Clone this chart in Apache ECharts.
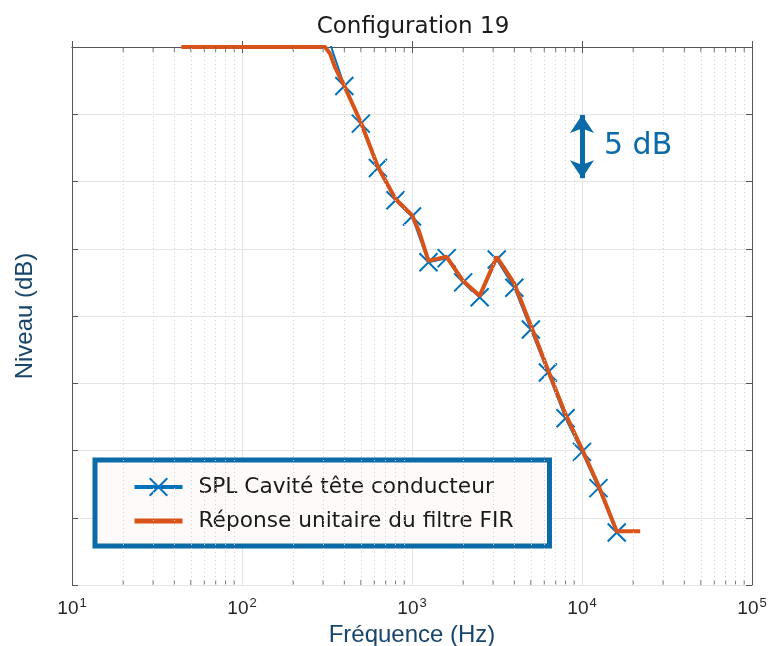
<!DOCTYPE html>
<html>
<head>
<meta charset="utf-8">
<script src="https://cdn.jsdelivr.net/npm/echarts@6/dist/echarts.min.js"></script>
<style>
html,body{margin:0;padding:0;background:#fff;}
#c{width:769px;height:646px;}
</style>
</head>
<body>
<div id="c"></div>
<script>
// ---- data ----
const freqBands = [315, 400, 500, 630, 800, 1000, 1250, 1600, 2000, 2500, 3150, 4000, 5000, 6300, 8000, 10000, 12500, 16000];
const splValues = [1.0, -2.9, -5.7, -9.0, -11.4, -12.6, -16.0, -15.7, -17.5, -18.6, -15.8, -17.9, -21.0, -24.2, -27.6, -30.1, -32.8, -36.1];

const firFreqs = [44, 308, 330, 352, 400, 500, 630, 800, 1000, 1100, 1250, 1600, 2000, 2500, 3150, 4000, 5000, 6300, 8000, 10000, 12500, 16000, 22000];
const firValues = [0, 0, -0.5, -1.5, -2.9, -5.6, -8.9, -11.3, -12.5, -13.7, -15.9, -15.6, -17.4, -18.5, -15.6, -17.6, -20.7, -24.0, -27.3, -29.9, -32.6, -36.0, -36.0];

const xTickValues = [10, 100, 1000, 10000, 100000];
const xTickLabels = ['10{s|1}', '10{s|2}', '10{s|3}', '10{s|4}', '10{s|5}'];
const minorFreqs = [20, 30, 40, 50, 60, 70, 80, 90,
                    200, 300, 400, 500, 600, 700, 800, 900,
                    2000, 3000, 4000, 5000, 6000, 7000, 8000, 9000,
                    20000, 30000, 40000, 50000, 60000, 70000, 80000, 90000];
const yMin = -40, yMax = 0, yStep = 5;
const scaleBar = { freq: 10000, top: -5.05, bottom: -9.75, labelAt: -7.4, text: '5 dB' };

const seriesNames = ['SPL Cavité tête conducteur', 'Réponse unitaire du filtre FIR'];

// ---- style ----
const BLUE = '#0072BD', ORANGE = '#D95319', ANNOT = '#0b6aa8';
const AXIS = '#555555', GRID = '#e4e4e4', MINOR = '#d0d0d0';
const crossPath = 'path://M0,0L10,10M10,0L0,10';

const chart = echarts.init(document.getElementById('c'), null, { renderer: 'canvas' });

const tickFmt = function (v) {
  const i = xTickValues.findIndex(t => Math.abs(t - v) / t < 1e-6);
  return i >= 0 ? xTickLabels[i] : '';
};

chart.setOption({
  animation: false,
  backgroundColor: '#ffffff',
  title: {
    text: 'Configuration 19',
    left: 408, top: 11, textAlign: 'center',
    textStyle: { fontFamily: 'DejaVu Sans', fontSize: 23, fontWeight: 'normal', color: '#1a1a1a' }
  },
  grid: { left: 72, right: 17, top: 47, bottom: 61, containLabel: false, outerBoundsMode: 'none' },
  legend: {
    orient: 'vertical',
    left: 95, top: 460,
    data: [
      { name: seriesNames[0], lineStyle: { width: 4 } },
      { name: seriesNames[1], lineStyle: { width: 5 }, itemStyle: { opacity: 0 } }
    ],
    itemWidth: 48, itemHeight: 22, itemGap: 8,
    padding: [14, 36, 12, 37],
    backgroundColor: '#fffafa',
    borderColor: ANNOT, borderWidth: 5, borderRadius: 0,
    textStyle: { fontFamily: 'DejaVu Sans', fontSize: 21.7, color: '#1a1a1a', padding: [0, 0, 0, 11], lineHeight: 26 }
  },
  xAxis: [{
    type: 'log', logBase: 10, min: 10, max: 100000,
    position: 'bottom',
    name: 'Fréquence (Hz)', nameLocation: 'middle', nameGap: 37,
    nameTextStyle: { fontFamily: 'Liberation Sans', fontSize: 24, color: '#17456b' },
    axisLine: { show: true, lineStyle: { color: AXIS, width: 1 } },
    axisTick: { show: true, inside: true, length: 6, lineStyle: { color: AXIS } },
    axisLabel: {
      show: true, margin: 12, formatter: tickFmt,
      color: '#262626', fontFamily: 'Liberation Sans', fontSize: 19,
      rich: { s: { fontSize: 13, fontFamily: 'Liberation Sans', color: '#262626', padding: [0, 0, 11, 1] } }
    },
    splitLine: { show: true, lineStyle: { color: GRID, width: 1 } }
  }, {
    type: 'log', logBase: 10, min: 10, max: 100000,
    position: 'top',
    axisLine: { show: true, lineStyle: { color: AXIS, width: 1 } },
    axisTick: { show: true, inside: true, length: 6, lineStyle: { color: AXIS } },
    axisLabel: { show: false },
    splitLine: { show: false }
  }],
  yAxis: [{
    type: 'value', min: yMin, max: yMax, interval: yStep,
    position: 'left',
    name: 'Niveau (dB)', nameLocation: 'middle', nameGap: 35,
    nameTextStyle: { fontFamily: 'Liberation Sans', fontSize: 24, color: '#17456b' },
    axisLine: { show: true, lineStyle: { color: AXIS, width: 1 } },
    axisTick: { show: true, inside: true, length: 6, lineStyle: { color: AXIS } },
    axisLabel: { show: false },
    splitLine: { show: true, lineStyle: { color: GRID, width: 1 } }
  }, {
    type: 'value', min: yMin, max: yMax, interval: yStep,
    position: 'right',
    axisLine: { show: true, lineStyle: { color: AXIS, width: 1 } },
    axisTick: { show: true, inside: true, length: 6, lineStyle: { color: AXIS } },
    axisLabel: { show: false },
    splitLine: { show: false }
  }],
  series: [
    {
      name: 'minorBottom', type: 'scatter', xAxisIndex: 0, yAxisIndex: 0,
      data: minorFreqs.map(f => [f, yMin]),
      symbol: 'rect', symbolSize: [1, 5], symbolOffset: [0, -2.5],
      itemStyle: { color: AXIS }, silent: true, clip: false, z: 1,
      markLine: {
        silent: true, symbol: 'none', animation: false,
        label: { show: false },
        lineStyle: { color: MINOR, width: 1, type: [1, 3] },
        data: minorFreqs.map(f => ({ xAxis: f }))
      }
    },
    {
      name: 'minorTop', type: 'scatter', xAxisIndex: 0, yAxisIndex: 0,
      data: minorFreqs.map(f => [f, yMax]),
      symbol: 'rect', symbolSize: [1, 5], symbolOffset: [0, 2.5],
      itemStyle: { color: AXIS }, silent: true, clip: false, z: 5,
      markLine: {
        silent: true, animation: false,
        symbol: ['arrow', 'arrow'], symbolSize: 18,
        label: { show: false },
        lineStyle: { color: ANNOT, width: 5, type: 'solid' },
        itemStyle: { color: ANNOT },
        data: [[{ coord: [scaleBar.freq, scaleBar.top] }, { coord: [scaleBar.freq, scaleBar.bottom] }]]
      },
      markPoint: {
        silent: true, animation: false,
        symbol: 'circle', symbolSize: 0,
        data: [{
          coord: [scaleBar.freq, scaleBar.labelAt],
          label: {
            show: true, position: 'right', distance: 22, formatter: scaleBar.text,
            fontFamily: 'DejaVu Sans', fontSize: 30, color: ANNOT
          }
        }]
      }
    },
    {
      name: seriesNames[0], type: 'line', xAxisIndex: 0, yAxisIndex: 0,
      data: freqBands.map((f, i) => [f, splValues[i]]),
      symbol: crossPath, symbolSize: 18, showSymbol: true,
      lineStyle: { color: BLUE, width: 2 },
      itemStyle: { color: BLUE, borderColor: BLUE, borderWidth: 2 },
      clip: true, z: 3
    },
    {
      name: seriesNames[1], type: 'line', xAxisIndex: 0, yAxisIndex: 0,
      data: firFreqs.map((f, i) => [f, firValues[i]]),
      symbol: 'none',
      lineStyle: { color: ORANGE, width: 4 },
      itemStyle: { color: ORANGE },
      clip: true, z: 4
    }
  ]
});
</script>
</body>
</html>
